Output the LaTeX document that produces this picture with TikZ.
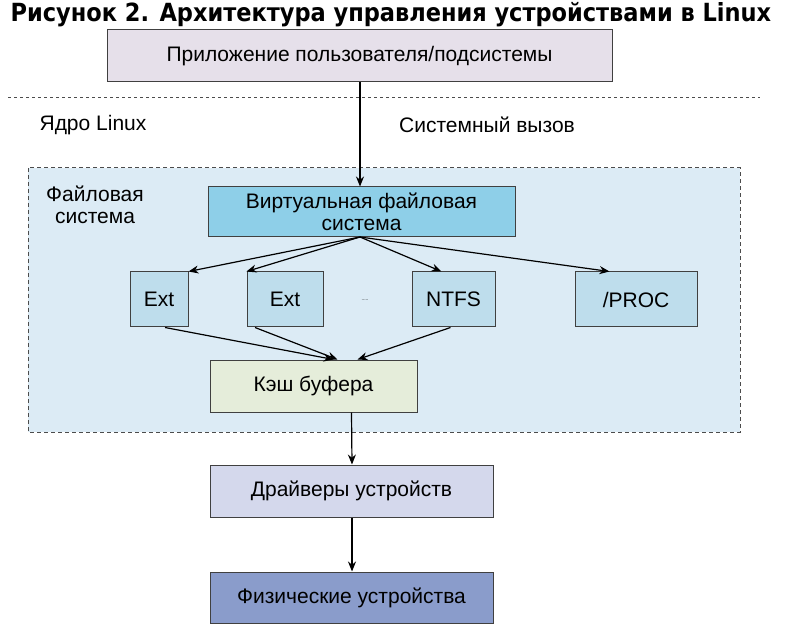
\documentclass[tikz,border=0pt]{standalone}
\usepackage{fontspec}
\setmainfont{Liberation Sans}
\newfontfamily\titlefont{DejaVu Sans Condensed}
\usetikzlibrary{arrows.meta}
\definecolor{appc}{HTML}{E6E0EA}
\definecolor{fsbg}{HTML}{DCEBF5}
\definecolor{vfsc}{HTML}{8ECFE8}
\definecolor{fsc}{HTML}{BEDDEC}
\definecolor{cachec}{HTML}{E5EDDA}
\definecolor{drvc}{HTML}{D4D8EC}
\definecolor{physc}{HTML}{8A9CCB}
\tikzset{
  box/.style={draw=black!75, line width=1pt, inner sep=0pt, font=\fontsize{21}{22}\selectfont, align=center},
  arr/.style={-{Stealth[length=10pt,width=8pt]}, line width=1.2pt},
  lbl/.style={font=\fontsize{21}{22}\selectfont, align=center}
}
\begin{document}
\begin{tikzpicture}[x=1pt,y=-1pt]
\useasboundingbox (0,0) rectangle (798,644);
\fill[white] (0,0) rectangle (798,644);
\node[font=\titlefont\bfseries\fontsize{25}{26}\selectfont, anchor=center] (title) at (391,15) {Рисунок 2. Архитектура управления устройствами в Linux};
\draw[dashed, dash pattern=on 3pt off 3pt, line width=1pt, black!70] (8,98) -- (760,98);
\draw[dashed, dash pattern=on 4pt off 3pt, line width=1pt, black!70, fill=fsbg] (28,168) rectangle (740,432);
\node[box, fill=appc, minimum width=505pt, minimum height=52pt] (app) at (359.5,56) {Приложение пользователя/подсистемы};
\node[lbl] (kern) at (93,125) {Ядро Linux};
\node[lbl] (sys) at (487,125) {Системный вызов};
\node[lbl] (fs) at (95,205) {Файловая\\система};
\node[box, fill=vfsc, minimum width=307pt, minimum height=50pt] (vfs) at (361.5,212) {Виртуальная файловая\\система};
\node[box, fill=fsc, minimum width=58pt, minimum height=55pt] (ext1) at (159,299.5) {Ext};
\node[box, fill=fsc, minimum width=76pt, minimum height=55pt] (ext2) at (285,299.5) {Ext};
\node[font=\tiny] (dots) at (365,300) {.....};
\node[box, fill=fsc, minimum width=83pt, minimum height=55pt] (ntfs) at (453.5,299.5) {NTFS};
\node[box, fill=fsc, minimum width=122pt, minimum height=55pt] (proc) at (636,299.5) {/PROC};
\node[box, fill=cachec, minimum width=207pt, minimum height=52pt] (cache) at (313.5,386) {Кэш буфера};
\node[box, fill=drvc, minimum width=283pt, minimum height=52pt] (drv) at (351.5,491) {Драйверы устройств};
\node[box, fill=physc, minimum width=283pt, minimum height=51pt] (phys) at (351.5,597.5) {Физические устройства};
\coordinate (vb) at (360,237);
\draw[arr] (app.south -| vb) -- (vfs.north -| vb);
\draw[arr] (vb) -- (ext1.north east);
\draw[arr] (vb) -- (ext2.north west);
\draw[arr] (vb) -- ([xshift=30pt]ntfs.north west);
\draw[arr] (vb) -- ([xshift=35pt]proc.north west);
\draw[arr] ([xshift=6pt]ext1.south) -- ([xshift=20pt]cache.north);
\draw[arr] ([xshift=-30pt]ext2.south) -- ([xshift=24pt]cache.north);
\draw[arr] ([xshift=-3pt]ntfs.south) -- ([xshift=44pt]cache.north);
\draw[arr] ([xshift=38pt]cache.south) -- (drv.north -| {(352,0)});
\draw[arr] (drv.south -| {(352,0)}) -- (phys.north -| {(352,0)});
\end{tikzpicture}
\end{document}
